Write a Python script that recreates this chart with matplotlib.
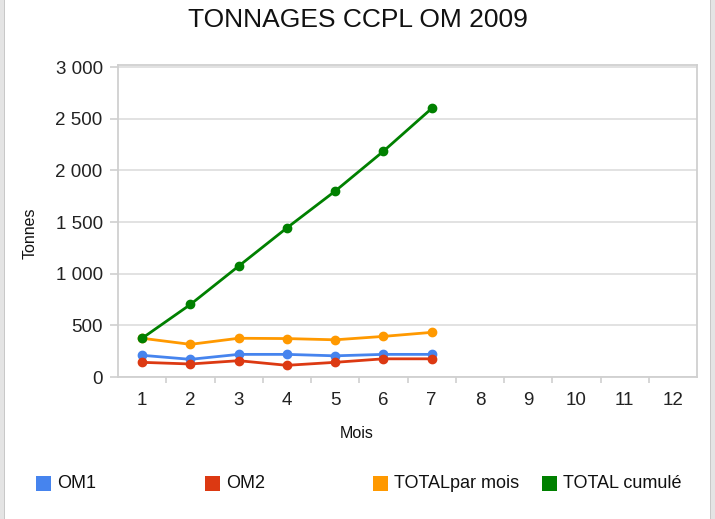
import numpy as np
import matplotlib
matplotlib.use('Agg')
import matplotlib.pyplot as plt
from matplotlib.patches import Rectangle
from matplotlib.ticker import MultipleLocator, FuncFormatter, FixedLocator

plt.rcParams['font.family'] = ['Liberation Sans', 'DejaVu Sans']

# =============================================================================
# DATA
# =============================================================================

mois = [1, 2, 3, 4, 5, 6, 7]
all_months = list(range(1, 13))
om1 = [210, 171, 219, 219, 205, 219, 219]
om2 = [142, 126, 158, 113, 142, 176, 176]
total_mois = [375, 316, 375, 372, 360, 393, 432]
total_cumule = [375, 702, 1073, 1443, 1799, 2185, 2599]

series = [om1, om2, total_mois, total_cumule]
labels = ['OM1', 'OM2', 'TOTALpar mois', 'TOTAL cumulé']
colors = ['#4684ee', '#dc3912', '#ff9900', '#008000']

# =============================================================================
# PLOT
# =============================================================================

W, H = 715, 519
fig = plt.figure(figsize=(W/100, H/100), dpi=100)
ax = fig.add_axes([118/W, 1-377/H, (697-118)/W, (377-65)/H])

for s, lab, c in zip(series, labels, colors):
    ax.plot(mois, s, color=c, lw=2.0, marker='o', ms=6, label=lab,
            solid_capstyle='round', zorder=3)

ax.set_xlim(0.5, 12.5)
ax.set_ylim(0, 3020)
ax.yaxis.set_major_locator(MultipleLocator(500))
ax.yaxis.set_major_formatter(FuncFormatter(lambda v, p: f'{v:,.0f}'.replace(',', ' ')))
ax.xaxis.set_major_locator(FixedLocator(all_months))
ax.xaxis.set_minor_locator(FixedLocator([m + 0.5 for m in all_months[:-1]]))

ax.grid(axis='y', color='#dddddd', lw=1.2, zorder=0)
for sp in ax.spines.values():
    sp.set_color('#d0d0d0')
    sp.set_linewidth(1.3)

ax.tick_params(axis='y', which='major', length=6, width=1.2, color='#d0d0d0',
               labelsize=13.5, labelcolor='#222222', pad=5)
ax.tick_params(axis='x', which='major', length=0, labelsize=13.5,
               labelcolor='#222222', pad=11)
ax.tick_params(axis='x', which='minor', length=4, width=1.2, color='#d0d0d0')

fig.text(0.5, 1-20/H, 'TONNAGES CCPL OM 2009', ha='center', va='center',
         fontsize=19, color='#111111')
fig.text(357/W, 1-433/H, 'Mois', ha='center', va='center', fontsize=11.5,
         color='#111111')
fig.text(30/W, 1-233/H, 'Tonnes', ha='center', va='center', rotation=90,
         fontsize=11.5, color='#111111')

# legend: four evenly spaced entries
for i, (lab, c) in enumerate(zip(labels, colors)):
    x0 = 36 + i * 168.7
    fig.patches.append(Rectangle((x0/W, 1-491/H), 15/W, 15/H,
                                 transform=fig.transFigure,
                                 facecolor=c, edgecolor='none'))
    fig.text((x0 + 21)/W, 1-484/H, lab, ha='left', va='center',
             fontsize=13, color='#111111')

# window borders
fig.patches.append(Rectangle((0, 0), 4/W, 1, transform=fig.transFigure,
                             facecolor='#e4e4e4', edgecolor='none'))
fig.patches.append(Rectangle((4/W, 0), 1/W, 1, transform=fig.transFigure,
                             facecolor='#c8c8c8', edgecolor='none'))
fig.patches.append(Rectangle((710/W, 0), 1/W, 1, transform=fig.transFigure,
                             facecolor='#c8c8c8', edgecolor='none'))
fig.patches.append(Rectangle((711/W, 0), 4/W, 1, transform=fig.transFigure,
                             facecolor='#e4e4e4', edgecolor='none'))

fig.savefig('out.png', dpi=100)
